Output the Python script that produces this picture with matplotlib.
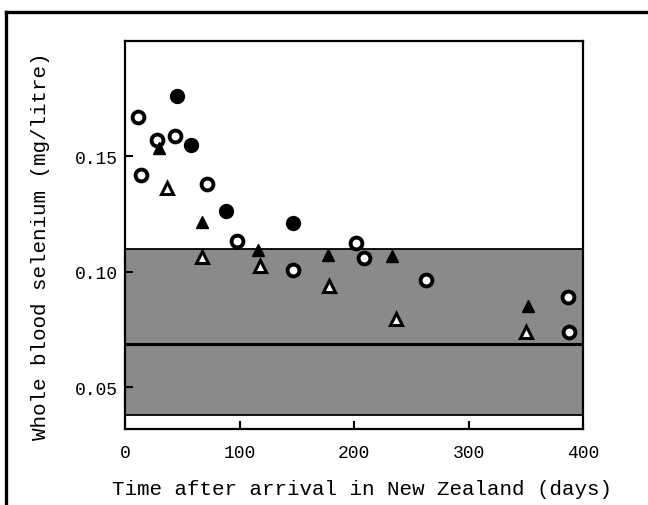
import matplotlib
matplotlib.use("Agg")
import matplotlib.pyplot as plt
from matplotlib.lines import Line2D

plt.rcParams["font.family"] = ["Liberation Mono", "DejaVu Sans Mono"]

# whole blood selenium (mg/litre) against days since arrival
open_circle_days = [11, 14, 28, 44, 72, 98, 147, 202, 209, 263, 387, 388]
open_circle_se = [0.167, 0.142, 0.157, 0.159, 0.138, 0.1135, 0.101, 0.1125, 0.106, 0.0963, 0.0893, 0.0741]

filled_circle_days = [45, 58, 88, 147]
filled_circle_se = [0.176, 0.155, 0.1266, 0.1214]

filled_tri_days = [30, 67, 116, 177, 233, 352]
filled_tri_se = [0.1538, 0.1217, 0.1094, 0.1073, 0.107, 0.0854]

open_tri_days = [37, 67, 118, 178, 237, 350]
open_tri_se = [0.1365, 0.1063, 0.1025, 0.094, 0.0796, 0.0741]

# reference range and mean for the comparison population
band_low, band_high = 0.038, 0.110
band_mean = 0.069

x_ticks = [0, 100, 200, 300, 400]
y_ticks = [0.05, 0.10, 0.15]

fig = plt.figure(figsize=(6.48, 5.06), dpi=100)
ax = fig.add_axes([125 / 648, 1 - 430 / 506, 458 / 648, 388 / 506])

ax.axhspan(band_low, band_high, facecolor="#8a8a8a", edgecolor="black", lw=1.3, zorder=1)
ax.axhline(band_mean, color="black", lw=2.2, zorder=2)

ax.plot(open_circle_days, open_circle_se, "o", ms=8.5, mfc="white", mec="black", mew=2.8, zorder=4)
ax.plot(filled_circle_days, filled_circle_se, "o", ms=10, mfc="black", mec="black", zorder=4)
ax.plot(filled_tri_days, filled_tri_se, "^", ms=9, mfc="black", mec="black", zorder=4)
ax.plot(open_tri_days, open_tri_se, "^", ms=8, mfc="white", mec="black", mew=2.2, zorder=4)

ax.set_xlim(0, 400)
ax.set_ylim(0.032, 0.20)
ax.set_xticks(x_ticks)
ax.set_yticks(y_ticks)
ax.set_yticklabels([f"{v:.2f}" for v in y_ticks])
ax.tick_params(direction="in", length=6, width=1.5, labelsize=13)
ax.tick_params(axis="x", pad=11)
ax.tick_params(axis="y", pad=5)
for s in ax.spines.values():
    s.set_linewidth(1.6)

ax.set_xlabel("Time after arrival in New Zealand (days)", fontsize=15)
ax.set_ylabel("Whole blood selenium (mg/litre)", fontsize=15)
ax.xaxis.set_label_coords(0.518, -0.129)
ax.yaxis.set_label_coords(-0.164, 0.474)

# outer frame: top and left edges
fig.add_artist(Line2D([6 / 648, 1.0], [1 - 13 / 506] * 2, color="black", lw=2.4))
fig.add_artist(Line2D([6 / 648] * 2, [0.0, 1 - 13 / 506], color="black", lw=2.4))

fig.savefig("out.png", dpi=100)
